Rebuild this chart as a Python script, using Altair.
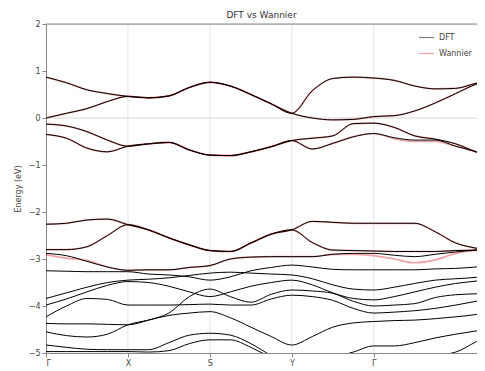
import altair as alt
import pandas as pd

# k-path positions (Γ=0, X=1, S=2, Y=3, Γ=4, then towards the cropped end)
K = [0, 0.25, 0.5, 0.75, 1, 1.25, 1.5, 1.75, 2, 2.25, 2.5, 2.75, 3,
     3.25, 3.5, 3.75, 4, 4.25, 4.5, 4.75, 5, 5.25, 5.34]
TICK_POS = [0, 1, 2, 3, 4]
TICK_LABELS = ["Γ", "X", "S", "Y", "Γ"]
Y_TICKS = [-5, -4, -3, -2, -1, 0, 1, 2]

# bands fitted by Wannier (DFT values)
U1 = [0.87, 0.75, 0.6, 0.52, 0.46, 0.43, 0.47, 0.65, 0.76, 0.68, 0.5, 0.3, 0.1,
      0.58, 0.84, 0.87, 0.85, 0.8, 0.68, 0.62, 0.63, 0.74, 0.77]
U2 = [0.0, 0.1, 0.2, 0.35, 0.46, 0.43, 0.47, 0.65, 0.76, 0.68, 0.5, 0.3, 0.1,
      0.0, -0.04, -0.03, 0.03, 0.05, 0.15, 0.32, 0.52, 0.72, 0.77]
B3 = [-0.13, -0.17, -0.29, -0.47, -0.6, -0.55, -0.52, -0.68, -0.79, -0.8, -0.72, -0.61, -0.48,
      -0.43, -0.38, -0.12, -0.11, -0.2, -0.38, -0.45, -0.55, -0.72, -0.77]
B4 = [-0.35, -0.43, -0.64, -0.72, -0.6, -0.55, -0.52, -0.68, -0.79, -0.8, -0.72, -0.61, -0.48,
      -0.66, -0.54, -0.4, -0.33, -0.42, -0.47, -0.47, -0.6, -0.72, -0.77]
E1 = [-2.26, -2.24, -2.17, -2.15, -2.27, -2.38, -2.55, -2.7, -2.82, -2.84, -2.66, -2.47, -2.38,
      -2.2, -2.22, -2.24, -2.24, -2.24, -2.24, -2.42, -2.66, -2.77, -2.8]
F1 = [-2.8, -2.8, -2.74, -2.5, -2.27, -2.38, -2.55, -2.7, -2.82, -2.84, -2.66, -2.47, -2.38,
      -2.65, -2.81, -2.82, -2.83, -2.84, -2.84, -2.84, -2.82, -2.81, -2.8]
G1 = [-2.88, -2.93, -3.05, -3.17, -3.24, -3.23, -3.23, -3.18, -3.14, -3.0, -2.96, -2.95, -2.95,
      -2.95, -2.9, -2.88, -2.88, -2.92, -2.95, -2.9, -2.85, -2.81, -2.8]

# Wannier values where they visibly deviate
WG1 = [-2.91, -2.98, -3.03, -3.17, -3.24, -3.23, -3.23, -3.18, -3.14, -3.0, -2.96, -2.95, -2.95,
       -2.95, -2.9, -2.9, -2.93, -3.0, -3.08, -3.02, -2.88, -2.81, -2.8]
WB4 = [-0.35, -0.43, -0.64, -0.72, -0.6, -0.55, -0.52, -0.68, -0.79, -0.8, -0.72, -0.61, -0.48,
       -0.66, -0.54, -0.4, -0.33, -0.44, -0.5, -0.5, -0.6, -0.72, -0.77]

# lower DFT-only bands
D1 = [-3.25, -3.26, -3.27, -3.27, -3.27, -3.32, -3.34, -3.38, -3.45, -3.38, -3.25, -3.18, -3.13,
      -3.17, -3.22, -3.23, -3.23, -3.23, -3.23, -3.21, -3.2, -3.17, -3.16]
D2 = [-3.84, -3.72, -3.6, -3.5, -3.45, -3.43, -3.4, -3.35, -3.3, -3.28, -3.3, -3.32, -3.34,
      -3.42, -3.55, -3.64, -3.66, -3.6, -3.52, -3.45, -3.42, -3.39, -3.37]
D3 = [-3.98, -3.85, -3.7, -3.56, -3.48, -3.5, -3.58, -3.7, -3.8, -3.7, -3.58, -3.5, -3.45,
      -3.55, -3.72, -3.84, -3.87, -3.8, -3.7, -3.6, -3.52, -3.47, -3.45]
D4 = [-4.23, -4.0, -3.84, -3.86, -3.98, -3.98, -3.98, -3.97, -3.96, -3.98, -3.98, -3.85, -3.77,
      -3.8, -3.88, -4.05, -4.15, -4.13, -4.1, -4.05, -3.98, -3.9, -3.87]
D5 = [-4.37, -4.38, -4.38, -4.39, -4.4, -4.3, -4.15, -3.8, -3.64, -3.8, -3.92, -3.75, -3.66,
      -3.68, -3.73, -3.9, -4.0, -3.98, -3.95, -3.82, -3.76, -3.74, -3.73]
D6 = [-4.55, -4.63, -4.66, -4.6, -4.4, -4.3, -4.2, -4.15, -4.12, -4.25, -4.45, -4.65, -4.83,
      -4.65, -4.45, -4.36, -4.33, -4.31, -4.3, -4.27, -4.23, -4.18, -4.15]
D7 = [-4.83, -4.88, -4.92, -4.93, -4.93, -4.93, -4.78, -4.62, -4.58, -4.62, -4.8, -5.05, -5.2,
      -5.2, -5.1, -4.98, -4.85, -4.85, -4.78, -4.68, -4.6, -4.53, -4.5]
D8 = [-4.97, -4.97, -4.97, -4.97, -4.97, -4.98, -4.95, -4.8, -4.72, -4.72, -4.88, -5.1, -5.3,
      -5.35, -5.3, -5.2, -5.15, -5.15, -5.1, -5.05, -4.98, -4.76, -4.68]

dft_bands = {"U1": U1, "U2": U2, "B3": B3, "B4": B4, "E1": E1, "F1": F1, "G1": G1,
             "D1": D1, "D2": D2, "D3": D3, "D4": D4, "D5": D5, "D6": D6, "D7": D7, "D8": D8}
wan_bands = {"U1": U1, "U2": U2, "B3": B3, "B4": WB4, "E1": E1, "F1": F1, "G1": WG1}

rows = []
for name, vals in dft_bands.items():
    for k, e in zip(K, vals):
        rows.append({"k": k, "E": e, "band": name, "source": "DFT"})
dft_df = pd.DataFrame(rows)
rows = []
for name, vals in wan_bands.items():
    for k, e in zip(K, vals):
        rows.append({"k": k, "E": e, "band": name, "source": "Wannier"})
wan_df = pd.DataFrame(rows)

xscale = alt.Scale(domain=[0, 5.26], nice=False, zero=False)
yscale = alt.Scale(domain=[-5, 2], nice=False, zero=False)
label_expr = "['Γ','X','S','Y','Γ'][datum.value]"
color = alt.Color(
    "source:N",
    scale=alt.Scale(domain=["DFT", "Wannier"], range=["#000000", "#e0474c"]),
    legend=alt.Legend(title=None, orient="none", legendX=372, legendY=5,
                      symbolType="stroke", symbolSize=220, symbolStrokeWidth=1.2,
                      labelFontSize=8, labelColor="#444", rowPadding=3),
)

grid = alt.Chart(pd.DataFrame({"k": TICK_POS[1:]})).mark_rule(
    color="#dddddd", strokeWidth=0.8).encode(x=alt.X("k:Q", scale=xscale))
zero = alt.Chart(pd.DataFrame({"E": [0]})).mark_rule(
    color="#cccccc", strokeWidth=0.8).encode(y=alt.Y("E:Q", scale=yscale))
top = alt.Chart(pd.DataFrame({"E": [2]})).mark_rule(
    color="#888888", strokeWidth=1).encode(y=alt.Y("E:Q", scale=yscale))

wan = alt.Chart(wan_df).mark_line(
    strokeWidth=1.7, opacity=0.5, interpolate="monotone", clip=True).encode(
    x=alt.X("k:Q", scale=xscale,
            axis=alt.Axis(values=TICK_POS, labelExpr=label_expr, title=None, grid=False,
                          tickSize=4, labelFontSize=8, labelColor="#444",
                          domainColor="#888", tickColor="#888", labelPadding=2)),
    y=alt.Y("E:Q", scale=yscale,
            axis=alt.Axis(values=Y_TICKS, format="d", title="Energy (eV)", grid=False,
                          tickSize=4, labelFontSize=8, labelColor="#444", titleFontSize=8,
                          titleFontWeight="normal", titleColor="#444", titlePadding=6,
                          domainColor="#888", tickColor="#888", labelPadding=2)),
    color=color, detail="band:N")

dft = alt.Chart(dft_df).mark_line(
    strokeWidth=1.0, interpolate="monotone", clip=True).encode(
    x=alt.X("k:Q", scale=xscale), y=alt.Y("E:Q", scale=yscale),
    color=color, detail="band:N")

chart = alt.layer(grid, zero, top, wan, dft).properties(
    width=431, height=329,
    title=alt.TitleParams("DFT vs Wannier", fontSize=9, fontWeight="normal",
                          color="#333", offset=0, font="DejaVu Sans"),
    padding={"left": 38, "top": 16, "right": 0, "bottom": 16},
    autosize=alt.AutoSizeParams(type="none"),
).configure_view(stroke=None).configure(font="DejaVu Sans")

chart.save("out.html", embed_options={"renderer": "svg", "actions": False})
